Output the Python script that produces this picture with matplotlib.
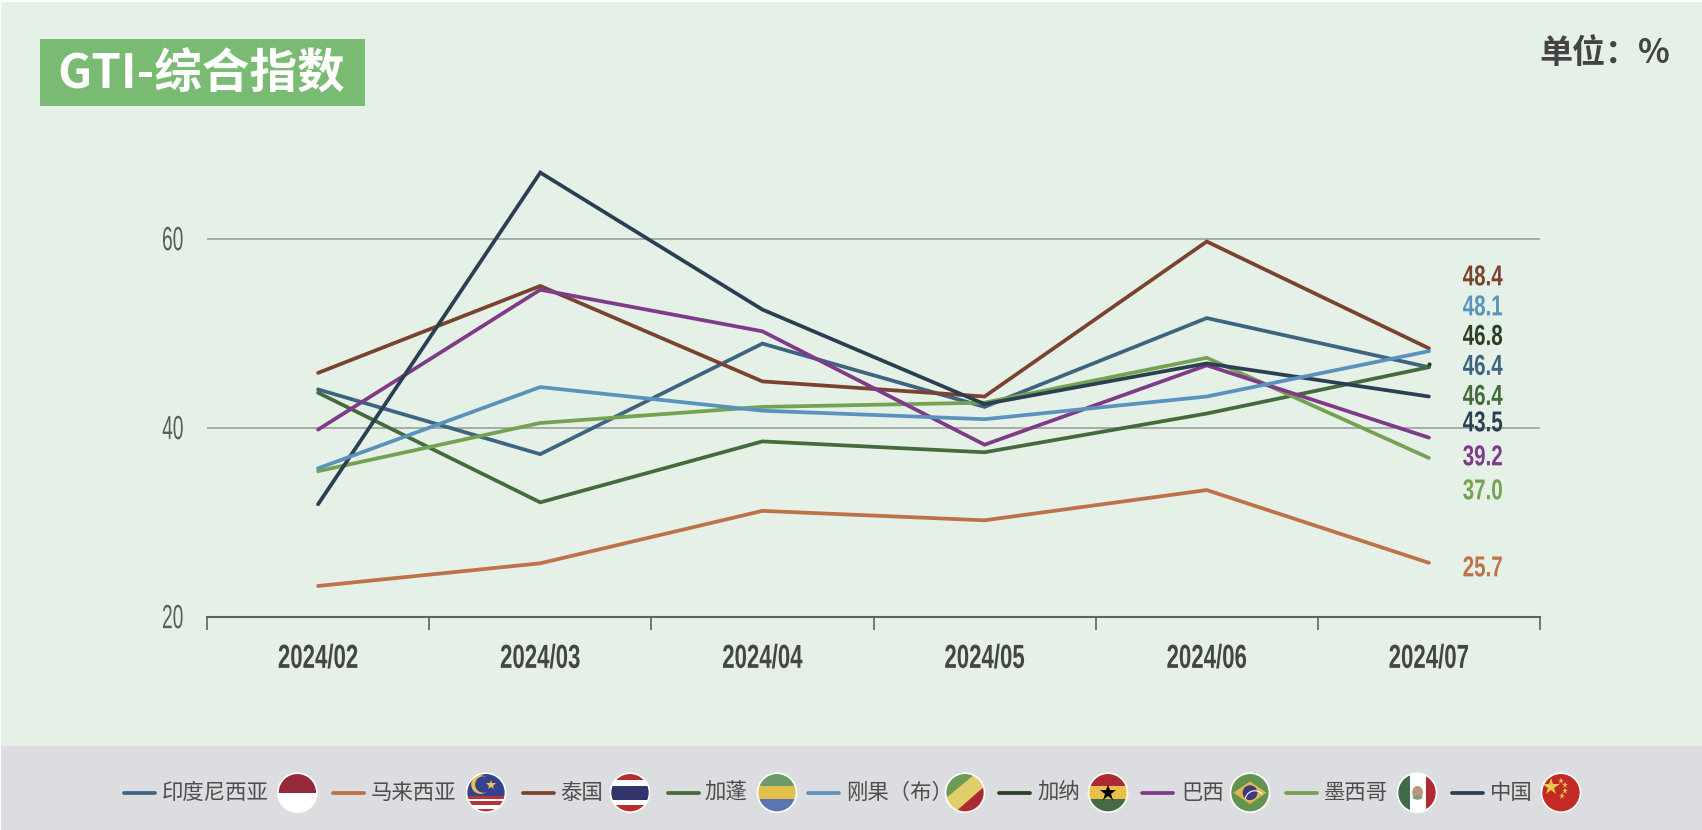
import matplotlib
matplotlib.use('Agg')
import matplotlib.pyplot as plt
import matplotlib.patheffects as pe
from matplotlib.patches import Rectangle, Circle, Polygon, Ellipse, Arc
from matplotlib.transforms import Affine2D
import numpy as np

months = ['2024/02', '2024/03', '2024/04', '2024/05', '2024/06', '2024/07']

india = [44.05, 37.2, 48.9, 42.2, 51.6, 46.4]
malaysia = [23.25, 25.65, 31.2, 30.2, 33.4, 25.7]
thailand = [45.8, 55.0, 44.9, 43.3, 59.7, 48.4]
gabon = [43.7, 32.1, 38.55, 37.4, 41.5, 46.4]
congo = [35.7, 44.3, 41.8, 40.9, 43.3, 48.1]
ghana = [np.nan, np.nan, np.nan, np.nan, np.nan, 46.7]  # 只看得到最后一个点
brazil = [39.8, 54.6, 50.2, 38.2, 46.6, 38.95]
mexico = [35.4, 40.5, 42.2, 42.65, 47.4, 36.8]
china = [31.9, 67.0, 52.5, 42.5, 46.8, 43.3]

end_labels = ['48.4', '48.1', '46.8', '46.4', '46.4', '43.5', '39.2', '37.0', '25.7']

C_INDIA = '#3f6482'
C_MALAYSIA = '#bd7248'
C_THAILAND = '#7a4330'
C_GABON = '#456b3c'
C_CONGO = '#5b92bd'
C_GHANA = '#2a4026'
C_BRAZIL = '#7f3a8a'
C_MEXICO = '#74a252'
C_CHINA = '#2a3f52'

CJK = ['Noto Sans CJK SC', 'DejaVu Sans']
NUM = ['Liberation Sans', 'DejaVu Sans']


class Stretch(pe.AbstractPathEffect):
    # 原图数字是窄体, 这里把字形纵向拉高
    def __init__(self, sy):
        super().__init__()
        self.sy = sy

    def draw_path(self, renderer, gc, tpath, affine, rgbFace=None):
        box = tpath.get_extents()
        mid = (box.y0 + box.y1) / 2
        t = Affine2D().translate(0, -mid).scale(1, self.sy).translate(0, mid)
        renderer.draw_path(gc, tpath, t + affine, rgbFace)


def pixel_axes(fig, z):
    a = fig.add_axes([0, 0, 1, 1], zorder=z)
    a.set_xlim(0, 1702)
    a.set_ylim(830, 0)
    a.axis('off')
    a.patch.set_alpha(0)
    return a


fig = plt.figure(figsize=(17.02, 8.3), facecolor='white')
bg = pixel_axes(fig, 0)
bg.add_patch(Rectangle((1, 2), 1701, 744, fc='#e5f1e6', ec='none'))
bg.add_patch(Rectangle((1, 746), 1701, 84, fc='#dcdde0', ec='none'))
bg.add_patch(Rectangle((39.5, 39), 325, 67, fc='#79bb72', ec='none'))

# 主图
ax = fig.add_axes([207 / 1702, (830 - 616.7) / 830, 1333 / 1702, 472.5 / 830], zorder=1)
ax.patch.set_alpha(0)
x = np.arange(len(months))
for vals, col in [(india, C_INDIA), (malaysia, C_MALAYSIA), (thailand, C_THAILAND),
                  (gabon, C_GABON), (mexico, C_MEXICO), (brazil, C_BRAZIL),
                  (china, C_CHINA), (congo, C_CONGO)]:
    ax.plot(x, vals, color=col, lw=2.7, solid_joinstyle='miter', solid_capstyle='round', zorder=3)
ax.plot(x, ghana, color=C_GHANA, lw=2.7, marker='o', ms=3, mew=0, zorder=4)

ax.set_xlim(-0.5, 5.5)
ax.set_ylim(20, 70)
ax.set_yticks([20, 40, 60])
ax.set_xticks(np.arange(-0.5, 6, 1))
ax.set_xticks(x, minor=True)
ax.set_xticklabels([])
ax.set_xticklabels(months, minor=True)
ax.grid(axis='y', color='#a3a6a4', lw=1.3, zorder=1)
ax.set_axisbelow(True)
for s in ['top', 'left', 'right']:
    ax.spines[s].set_visible(False)
ax.spines['bottom'].set_color('#5f6360')
ax.spines['bottom'].set_linewidth(1.5)
ax.tick_params(axis='y', length=0, pad=17)
ax.tick_params(axis='x', which='major', length=9, width=1.2, color='#5f6360')
ax.tick_params(axis='x', which='minor', length=0, pad=22.5)
for t in ax.get_yticklabels():
    t.set(family=NUM, fontsize=13.8, color='#5a5c5a')
    t.set_path_effects([Stretch(1.75)])
for t in ax.get_xticklabels(minor=True):
    t.set(family=NUM, fontsize=16, fontweight='bold', color='#454545')
    t.set_path_effects([Stretch(1.5)])

ov = pixel_axes(fig, 2)

# 标题
ov.text(201, 75, 'GTI-综合指数', family=CJK, fontsize=34.3, fontweight='bold',
        color='white', ha='center', va='center')
ov.text(1670, 54, '单位：%', family=CJK, fontsize=23.8, fontweight='bold',
        color='#444444', ha='right', va='center')

# 右侧数值标签
label_colors = [C_THAILAND, C_CONGO, C_GHANA, C_INDIA, C_GABON, C_CHINA, C_BRAZIL, C_MEXICO, C_MALAYSIA]
label_y = [277, 307, 336.5, 366.5, 396.5, 423, 457, 491, 568]
for s, c, yy in zip(end_labels, label_colors, label_y):
    tx = ov.text(1462.7, yy, s, family=NUM, fontsize=14.8, fontweight='bold',
                 color=c, ha='left', va='center')
    tx.set_path_effects([Stretch(1.4)])


# 国旗
def flag(name, cx, cy=792.7, r=19.5):
    circle = Circle((cx, cy), r, transform=ov.transData, fc='white', ec='none', zorder=5)
    ov.add_patch(circle)

    def add(p):
        p.set_zorder(6)
        ov.add_patch(p)
        p.set_clip_path(circle)

    def band(v0, v1, c):
        add(Rectangle((cx - r, cy - v1 * r), 2 * r, (v1 - v0) * r, fc=c, ec='none'))

    def vband(u0, u1, c):
        add(Rectangle((cx + u0 * r, cy - r), (u1 - u0) * r, 2 * r, fc=c, ec='none'))

    def poly(pts, c):
        add(Polygon([(cx + u * r, cy - v * r) for u, v in pts], closed=True, fc=c, ec='none'))

    def star(u, v, ms, c):
        ov.plot([cx + u * r], [cy - v * r], marker='*', ms=ms, mew=0, color=c, zorder=7)

    if name == 'indonesia':
        band(0, 1, '#96293a')
    elif name == 'malaysia':
        band(-0.15, 1, '#37428f')
        for v0, v1 in [(-0.33, -0.15), (-0.62, -0.42), (-1, -0.82)]:
            band(v0, v1, '#b5343a')
        add(Circle((cx - 0.28 * r, cy - 0.42 * r), 0.48 * r, fc='#e6c34e', ec='none'))
        add(Circle((cx - 0.14 * r, cy - 0.42 * r), 0.42 * r, fc='#37428f', ec='none'))
        star(0.25, 0.42, 7, '#e6c34e')
    elif name == 'thailand':
        band(-1, 1, '#b5302d')
        band(-0.65, 0.65, 'white')
        band(-0.35, 0.35, '#31356c')
    elif name == 'gabon':
        band(0.33, 1, '#6a9c68')
        band(-0.33, 0.33, '#e3c04b')
        band(-1, -0.33, '#5a74b4')
    elif name == 'congo':
        band(-1, 1, '#e0cf68')
        poly([(-1.5, -0.71), (1, 1.36), (-1.5, 1.36)], '#6a9c58')
        poly([(-1.5, -1.87), (1.5, 0.77), (1.5, -1.87)], '#ad2a33')
    elif name == 'ghana':
        band(0.33, 1, '#ad2a33')
        band(-0.33, 0.33, '#e8c04a')
        band(-1, -0.33, '#456b45')
        star(0, 0, 12, 'black')
    elif name == 'brazil':
        band(-1, 1, '#63944f')
        poly([(-0.85, 0), (0, 0.58), (0.85, 0), (0, -0.58)], '#dcb94a')
        add(Circle((cx, cy), 0.38 * r, fc='#3f3a80', ec='none'))
        add(Arc((cx + 0.25 * r, cy + 0.4 * r), 1.0 * r, 1.0 * r, theta1=190, theta2=320, ec='white', lw=0.8))
    elif name == 'mexico':
        vband(-1, -0.36, '#3e6b4a')
        vband(0.45, 1, '#b02a32')
        add(Ellipse((cx + 0.03 * r, cy), 0.55 * r, 0.7 * r, fc='#b59a78', ec='none'))
        add(Ellipse((cx + 0.03 * r, cy + 0.25 * r), 0.5 * r, 0.2 * r, fc='#7f9a7a', ec='none'))
    elif name == 'china':
        band(-1, 1, '#c32a25')
        star(-0.5, 0.3, 13, '#e8c94f')
        for u, v in [(0, 0.58), (0.22, 0.37), (0.22, 0.1), (0.05, -0.15)]:
            star(u, v, 4.5, '#e8c94f')
    ov.add_patch(Circle((cx, cy), r, fc='none', ec='white', lw=1.2, zorder=8))


# 图例
legend_items = [
    ('印度尼西亚', C_INDIA, 124, 162, 297.4, 'indonesia'),
    ('马来西亚', C_MALAYSIA, 333, 371, 486, 'malaysia'),
    ('泰国', C_THAILAND, 523, 560, 630, 'thailand'),
    ('加蓬', C_GABON, 668, 704.5, 777, 'gabon'),
    ('刚果（布）', C_CONGO, 808, 846, 965, 'congo'),
    ('加纳', C_GHANA, 999, 1037, 1108, 'ghana'),
    ('巴西', C_BRAZIL, 1142, 1181, 1250, 'brazil'),
    ('墨西哥', C_MEXICO, 1286, 1324, 1417, 'mexico'),
    ('中国', C_CHINA, 1452, 1490, 1561, 'china'),
]
for name, col, lx, tx, fx, key in legend_items:
    ov.plot([lx, lx + 31], [793, 793], color=col, lw=2.7, solid_capstyle='round')
    ov.text(tx, 792.5, name, family=CJK, fontsize=15.4, color='#4d4d4d', ha='left', va='center')
    flag(key, fx)

ov.set_xlim(0, 1702)
ov.set_ylim(830, 0)
fig.savefig('out.png', dpi=100)
